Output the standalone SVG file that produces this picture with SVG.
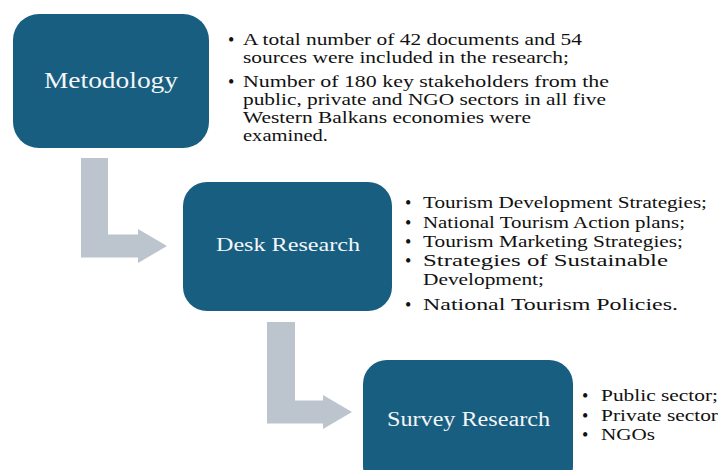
<svg xmlns="http://www.w3.org/2000/svg" width="719" height="470" viewBox="0 0 719 470">
  <style>
    .box { fill: #175E80; }
    .arrow { fill: #BCC4CE; }
    .title { fill: #F4F6F8; }
    .item { font-size: 16.5px; fill: #111111; }
    .dot { font-size: 18px; fill: #111111; }
  </style>
  <rect width="719" height="470" fill="#FFFFFF"/>

  <!-- bent flow arrows between steps -->
  <g id="connectors">
    <path class="arrow" d="M81,158 H108 V234.5 H138 V229 L167,246 L138,263 V257.5 H81 Z"/>
    <path class="arrow" d="M267,322 H295 V400.5 H323 V395 L352,412 L323,429 V423.5 H267 Z"/>
  </g>

  <g font-family="Liberation Serif, Times New Roman, serif">
    <g id="metodology">
      <rect class="box" x="13" y="14" width="196" height="134" rx="26" ry="26"/>
      <text class="title" x="44" y="88" font-size="24" textLength="134" lengthAdjust="spacingAndGlyphs">Metodology</text>
    </g>

    <g id="metodology-notes">
      <text class="dot" x="228" y="46">•</text>
      <text class="item" x="243" y="45" textLength="339" lengthAdjust="spacingAndGlyphs">A total number of 42 documents and 54</text>
      <text class="item" x="243" y="63" textLength="326" lengthAdjust="spacingAndGlyphs">sources were included in the research;</text>
      <text class="dot" x="228" y="88">•</text>
      <text class="item" x="243" y="87" textLength="366" lengthAdjust="spacingAndGlyphs">Number of 180 key stakeholders from the</text>
      <text class="item" x="243" y="105" textLength="363" lengthAdjust="spacingAndGlyphs">public, private and NGO sectors in all five</text>
      <text class="item" x="243" y="123" textLength="288" lengthAdjust="spacingAndGlyphs">Western Balkans economies were</text>
      <text class="item" x="243" y="141" textLength="85" lengthAdjust="spacingAndGlyphs">examined.</text>
    </g>

    <g id="desk-research">
      <rect class="box" x="183" y="182" width="209" height="129" rx="24" ry="24"/>
      <text class="title" x="216" y="251" font-size="19" textLength="144" lengthAdjust="spacingAndGlyphs">Desk Research</text>
    </g>

    <g id="desk-research-notes">
      <text class="dot" x="405" y="209">•</text>
      <text class="item" x="423" y="208" textLength="284" lengthAdjust="spacingAndGlyphs">Tourism Development Strategies;</text>
      <text class="dot" x="405" y="229">•</text>
      <text class="item" x="423" y="228" textLength="262" lengthAdjust="spacingAndGlyphs">National Tourism Action plans;</text>
      <text class="dot" x="405" y="248">•</text>
      <text class="item" x="423" y="247" textLength="260" lengthAdjust="spacingAndGlyphs">Tourism Marketing Strategies;</text>
      <text class="dot" x="405" y="267">•</text>
      <text class="item" x="423" y="266" textLength="245" lengthAdjust="spacingAndGlyphs">Strategies of Sustainable</text>
      <text class="item" x="423" y="285" textLength="121" lengthAdjust="spacingAndGlyphs">Development;</text>
      <text class="dot" x="405" y="311">•</text>
      <text class="item" x="423" y="310" textLength="255" lengthAdjust="spacingAndGlyphs">National Tourism Policies.</text>
    </g>

    <g id="survey-research">
      <rect class="box" x="363" y="360" width="210" height="130" rx="24" ry="24"/>
      <text class="title" x="387" y="426" font-size="20" textLength="163" lengthAdjust="spacingAndGlyphs">Survey Research</text>
    </g>

    <g id="survey-research-notes">
      <text class="dot" x="582" y="402">•</text>
      <text class="item" x="601" y="401" textLength="117" lengthAdjust="spacingAndGlyphs">Public sector;</text>
      <text class="dot" x="582" y="422">•</text>
      <text class="item" x="601" y="421" textLength="117" lengthAdjust="spacingAndGlyphs">Private sector</text>
      <text class="dot" x="582" y="441">•</text>
      <text class="item" x="601" y="440" textLength="54" lengthAdjust="spacingAndGlyphs">NGOs</text>
    </g>
  </g>
</svg>
